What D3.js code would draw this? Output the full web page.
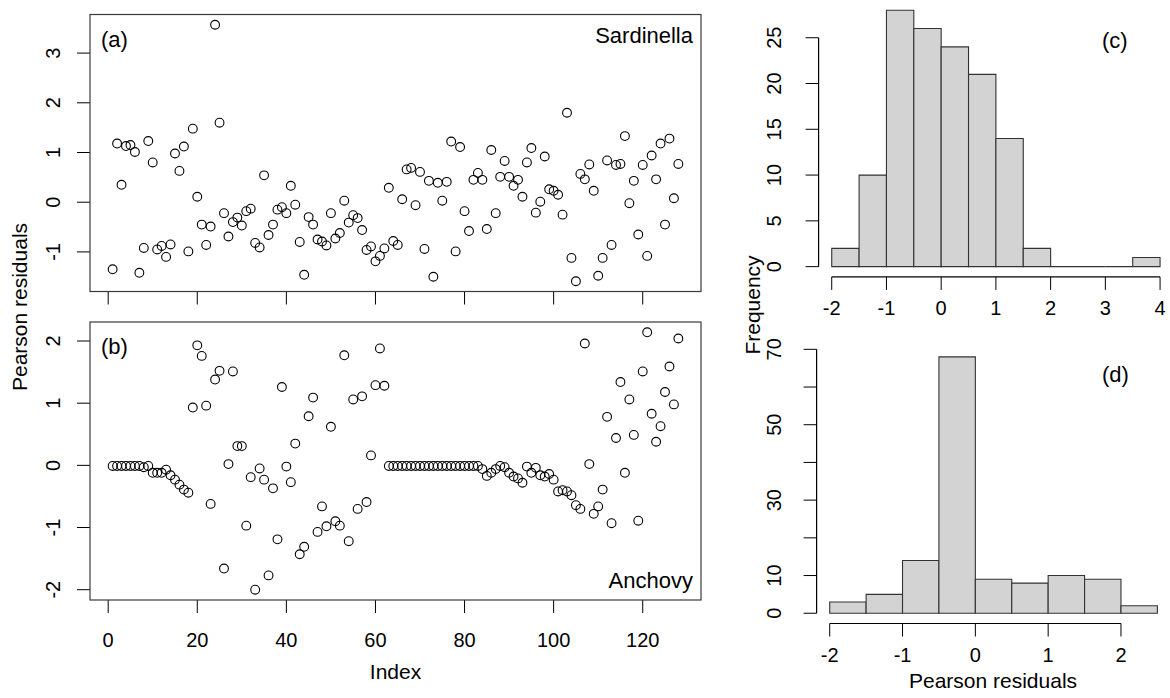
<!DOCTYPE html>
<html><head><meta charset="utf-8">
<script src="https://cdn.jsdelivr.net/npm/d3@7"></script>
<style>
body{margin:0;background:#fff}
svg{display:block}
text{font-family:"Liberation Sans",Arial,Helvetica,sans-serif;fill:#000}
</style>
</head><body>
<svg id="chart" width="1170" height="698"></svg>
<script>
// ---------- data ----------
const sardinella = [
 -1.35, 1.18, 0.35, 1.13, 1.15, 1.01, -1.42, -0.92, 1.23, 0.80,
 -0.95, -0.88, -1.10, -0.85, 0.98, 0.63, 1.12, -0.99, 1.48, 0.11,
 -0.45, -0.86, -0.49, 3.57, 1.60, -0.22, -0.69, -0.40, -0.31, -0.47,
 -0.18, -0.13, -0.82, -0.91, 0.54, -0.66, -0.45, -0.15, -0.10, -0.22,
 0.33, -0.05, -0.80, -1.46, -0.30, -0.45, -0.75, -0.79, -0.87, -0.22,
 -0.73, -0.62, 0.03, -0.41, -0.26, -0.32, -0.56, -0.96, -0.89, -1.19,
 -1.08, -0.93, 0.29, -0.78, -0.86, 0.06, 0.66, 0.69, -0.06, 0.61,
 -0.94, 0.43, -1.50, 0.39, 0.03, 0.41, 1.22, -0.99, 1.11, -0.18,
 -0.58, 0.45, 0.59, 0.45, -0.54, 1.05, -0.22, 0.51, 0.83, 0.51,
 0.33, 0.45, 0.11, 0.80, 1.09, -0.21, 0.01, 0.92, 0.26, 0.23,
 0.15, -0.25, 1.80, -1.12, -1.59, 0.57, 0.46, 0.76, 0.23, -1.48,
 -1.12, 0.84, -0.86, 0.75, 0.77, 1.33, -0.02, 0.43, -0.65, 0.75,
 -1.08, 0.94, 0.46, 1.18, -0.45, 1.28, 0.08, 0.77
];
const anchovy = [
 -0.01, -0.01, -0.01, -0.01, -0.01, -0.01, -0.01, -0.03, -0.01, -0.12,
 -0.12, -0.12, -0.07, -0.16, -0.23, -0.31, -0.39, -0.44, 0.93, 1.93,
 1.76, 0.96, -0.62, 1.38, 1.52, -1.66, 0.02, 1.51, 0.31, 0.31,
 -0.97, -0.19, -2.00, -0.05, -0.23, -1.77, -0.37, -1.19, 1.26, -0.02,
 -0.27, 0.35, -1.43, -1.31, 0.79, 1.09, -1.07, -0.66, -0.98, 0.62,
 -0.90, -0.97, 1.77, -1.22, 1.06, -0.70, 1.11, -0.59, 0.16, 1.29,
 1.88, 1.28, -0.01, -0.01, -0.01, -0.01, -0.01, -0.01, -0.01, -0.01,
 -0.01, -0.01, -0.01, -0.01, -0.01, -0.01, -0.01, -0.01, -0.01, -0.01,
 -0.01, -0.01, -0.01, -0.06, -0.17, -0.12, -0.06, -0.01, -0.03, -0.12,
 -0.18, -0.21, -0.28, -0.02, -0.12, -0.04, -0.16, -0.18, -0.14, -0.23,
 -0.42, -0.40, -0.42, -0.48, -0.64, -0.70, 1.96, 0.02, -0.78, -0.66,
 -0.39, 0.78, -0.93, 0.44, 1.34, -0.12, 1.06, 0.49, -0.89, 1.51,
 2.14, 0.83, 0.38, 0.63, 1.18, 1.59, 0.98, 2.04
];
const xTicksIndex = [0, 20, 40, 60, 80, 100, 120];
const yTicksA = [-1, 0, 1, 2, 3];
const yTicksB = [-2, -1, 0, 1, 2];

const binEdgesC = [-2, -1.5, -1, -0.5, 0, 0.5, 1, 1.5, 2, 2.5, 3, 3.5, 4];
const countsC   = [2, 10, 28, 26, 24, 21, 14, 2, 0, 0, 0, 1];
const xTicksC = [-2, -1, 0, 1, 2, 3, 4];
const yTicksC = [0, 5, 10, 15, 20, 25];

const binEdgesD = [-2, -1.5, -1, -0.5, 0, 0.5, 1, 1.5, 2, 2.5];
const countsD   = [3, 5, 14, 68, 9, 8, 10, 9, 2];
const xTicksD = [-2, -1, 0, 1, 2];
const yTicksD = [0, 10, 20, 30, 40, 50, 60, 70];
const yLabelsD = [0, 10, 30, 50, 70];

// ---------- helpers ----------
const svg = d3.select("#chart");
const ext4 = (a, b) => { const r = (b - a) * 0.04; return [a - r, b + r]; };
const TICK = 13, FS_TICK = 20, FS_LAB = 21, FS_TAG = 22;
const boxStroke = "#3a3a3a";

// ---------- left scatter panels ----------
const L = 90, R = 701;
const xS = d3.scaleLinear().domain(ext4(1, sardinella.length)).range([L, R]);

function scatter(values, top, bottom, yTicks, showX, tag, tagBase, name, nameBase) {
  const g = svg.append("g");
  const e = d3.extent(values);
  const yS = d3.scaleLinear().domain(ext4(e[0], e[1])).range([bottom, top]);

  // x axis ticks
  g.append("g").selectAll("line").data(xTicksIndex).join("line")
    .attr("x1", d => xS(d)).attr("x2", d => xS(d))
    .attr("y1", bottom).attr("y2", bottom + TICK)
    .attr("stroke", "#000").attr("stroke-width", 1);
  if (showX) {
    g.append("g").selectAll("text").data(xTicksIndex).join("text")
      .attr("x", d => xS(d)).attr("y", 647)
      .attr("text-anchor", "middle").attr("font-size", FS_TICK)
      .text(d => d);
  }
  // y axis ticks
  g.append("g").selectAll("line").data(yTicks).join("line")
    .attr("x1", L - TICK).attr("x2", L)
    .attr("y1", d => yS(d)).attr("y2", d => yS(d))
    .attr("stroke", "#000").attr("stroke-width", 1);
  g.append("g").selectAll("text").data(yTicks).join("text")
    .attr("transform", d => `translate(60,${yS(d)}) rotate(-90)`)
    .attr("text-anchor", "middle").attr("font-size", FS_TICK)
    .text(d => d);

  // points
  g.append("g").selectAll("circle").data(values).join("circle")
    .attr("cx", (d, i) => xS(i + 1)).attr("cy", d => yS(d))
    .attr("r", 4.4).attr("fill", "none")
    .attr("stroke", "#000").attr("stroke-width", 1.1);

  // box
  g.append("rect").attr("x", L).attr("y", top)
    .attr("width", R - L).attr("height", bottom - top)
    .attr("fill", "none").attr("stroke", boxStroke).attr("stroke-width", 1.2);

  g.append("text").attr("x", 101).attr("y", tagBase)
    .attr("font-size", FS_TAG).text(tag);
  g.append("text").attr("x", 693).attr("y", nameBase)
    .attr("text-anchor", "end").attr("font-size", FS_TAG).text(name);
}

scatter(sardinella, 14.5, 291.5, yTicksA, false, "(a)", 47, "Sardinella", 43);
scatter(anchovy, 322, 600, yTicksB, true, "(b)", 354, "Anchovy", 588);

svg.append("text").attr("x", (L + R) / 2).attr("y", 679)
  .attr("text-anchor", "middle").attr("font-size", FS_LAB).text("Index");
svg.append("text").attr("transform", "translate(27,307) rotate(-90)")
  .attr("text-anchor", "middle").attr("font-size", FS_LAB).text("Pearson residuals");

// ---------- histograms ----------
function hist(edges, counts, xRange, yRange, xTicks, yTicks, yLabels, xLabBase, yLabX, tag, tagBase) {
  const g = svg.append("g");
  const xH = d3.scaleLinear().domain(ext4(edges[0], edges[edges.length - 1])).range(xRange);
  const yH = d3.scaleLinear().domain(ext4(0, d3.max(counts))).range(yRange);
  const bars = counts.map((c, i) => ({x0: edges[i], x1: edges[i + 1], c}));
  g.append("g").selectAll("path").data(bars).join("path")
    .attr("d", b => `M${xH(b.x0)},${yH(0)}V${yH(b.c)}H${xH(b.x1)}V${yH(0)}Z`)
    .attr("fill", "#d3d3d3").attr("stroke", "#333").attr("stroke-width", 1.1);

  const axY = yRange[0];
  // x axis
  g.append("line").attr("x1", xH(xTicks[0])).attr("x2", xH(xTicks[xTicks.length - 1]))
    .attr("y1", axY).attr("y2", axY).attr("stroke", "#000").attr("stroke-width", 1.2);
  g.append("g").selectAll("line").data(xTicks).join("line")
    .attr("x1", d => xH(d)).attr("x2", d => xH(d))
    .attr("y1", axY).attr("y2", axY + TICK).attr("stroke", "#000");
  g.append("g").selectAll("text").data(xTicks).join("text")
    .attr("x", d => xH(d)).attr("y", xLabBase)
    .attr("text-anchor", "middle").attr("font-size", FS_TICK).text(d => d);
  // y axis
  const axX = xRange[0];
  g.append("line").attr("x1", axX).attr("x2", axX)
    .attr("y1", yH(yTicks[0])).attr("y2", yH(yTicks[yTicks.length - 1]))
    .attr("stroke", "#000").attr("stroke-width", 1.2);
  g.append("g").selectAll("line").data(yTicks).join("line")
    .attr("x1", axX - TICK).attr("x2", axX)
    .attr("y1", d => yH(d)).attr("y2", d => yH(d)).attr("stroke", "#000");
  g.append("g").selectAll("text").data(yLabels).join("text")
    .attr("transform", d => `translate(${yLabX},${yH(d)}) rotate(-90)`)
    .attr("text-anchor", "middle").attr("font-size", FS_TICK).text(d => d);

  g.append("text").attr("x", 1102).attr("y", tagBase)
    .attr("font-size", FS_TAG).text(tag);
}

hist(binEdgesC, countsC, [818.6, 1173.2], [276.9, 0.0], xTicksC, yTicksC, yTicksC, 315, 781, "(c)", 48);
hist(binEdgesD, countsD, [816.6, 1170.5], [623.5, 346.6], xTicksD, yTicksD, yLabelsD, 661.5, 781, "(d)", 382);

svg.append("text").attr("x", 993).attr("y", 688)
  .attr("text-anchor", "middle").attr("font-size", FS_LAB).text("Pearson residuals");
svg.append("text").attr("transform", "translate(760,305) rotate(-90)")
  .attr("text-anchor", "middle").attr("font-size", FS_LAB).text("Frequency");
</script>
</body></html>
